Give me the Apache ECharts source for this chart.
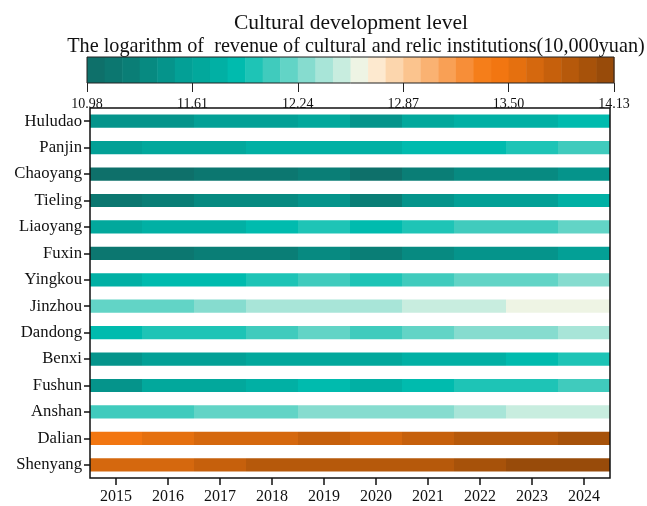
<!DOCTYPE html>
<html>
<head>
<meta charset="utf-8">
<script src="https://cdn.jsdelivr.net/npm/echarts@6/dist/echarts.min.js"></script>
<style>
  html, body { margin: 0; padding: 0; background: #fff; }
  #chart { width: 647px; height: 506px; }
</style>
</head>
<body>
<div id="chart"></div>
<script>
// Cities, top to bottom
const cities = ['Huludao', 'Panjin', 'Chaoyang', 'Tieling', 'Liaoyang', 'Fuxin', 'Yingkou',
  'Jinzhou', 'Dandong', 'Benxi', 'Fushun', 'Anshan', 'Dalian', 'Shenyang'];
const years = ['2015', '2016', '2017', '2018', '2019', '2020', '2021', '2022', '2023', '2024'];

// Logarithm of revenue of cultural and relic institutions (10,000 yuan), 2015-2024
const huludao  = [11.43, 11.47, 11.53, 11.58, 11.64, 11.49, 11.67, 11.74, 11.79, 11.86];
const panjin   = [11.58, 11.63, 11.68, 11.73, 11.76, 11.80, 11.85, 11.90, 11.97, 12.06];
const chaoyang = [11.03, 11.07, 11.11, 11.16, 11.22, 11.06, 11.25, 11.32, 11.37, 11.44];
const tieling  = [11.15, 11.24, 11.31, 11.36, 11.42, 11.27, 11.46, 11.54, 11.59, 11.75];
const liaoyang = [11.68, 11.74, 11.79, 11.86, 11.95, 11.88, 11.99, 12.06, 12.10, 12.18];
const fuxin    = [11.12, 11.17, 11.21, 11.26, 11.33, 11.24, 11.38, 11.43, 11.48, 11.57];
const yingkou  = [11.77, 11.84, 11.89, 11.96, 12.05, 11.98, 12.09, 12.16, 12.21, 12.29];
const jinzhou  = [12.17, 12.22, 12.30, 12.37, 12.41, 12.43, 12.49, 12.53, 12.59, 12.63];
const dandong  = [11.88, 11.95, 12.00, 12.07, 12.16, 12.10, 12.20, 12.27, 12.32, 12.39];
const benxi    = [11.46, 11.55, 11.59, 11.64, 11.68, 11.66, 11.74, 11.79, 11.86, 11.96];
const fushun   = [11.49, 11.64, 11.69, 11.76, 11.85, 11.78, 11.88, 11.96, 12.01, 12.08];
const anshan   = [12.06, 12.11, 12.17, 12.21, 12.27, 12.30, 12.34, 12.40, 12.48, 12.53];
const dalian   = [13.47, 13.56, 13.64, 13.68, 13.74, 13.67, 13.78, 13.84, 13.90, 13.96];
const shenyang = [13.63, 13.69, 13.75, 13.82, 13.86, 13.88, 13.91, 13.97, 14.06, 14.11];

// Colour scale range and its tick labels
const scaleMin = 10.98;
const scaleMax = 14.13;
const scaleSteps = 30;
const scaleTickLabels = ['10.98', '11.61', '12.24', '12.87', '13.50', '14.13'];

// Discrete palette: dark teal -> cyan -> cream -> orange -> brown
const palette = [
  '#0e706a', '#0c7770', '#0a7e76', '#078a81', '#05948b', '#03a096', '#02a89c', '#01b0a4',
  '#00bbae', '#1ec4b6', '#40cbbd', '#62d4c6', '#86dccf', '#a8e5d8', '#c8eddf', '#eef4e4',
  '#fde9cf', '#fcd6ad', '#fbc48e', '#fab272', '#f9a055', '#f78e38', '#f57e1a', '#f27611',
  '#e5700f', '#d5680e', '#c6600c', '#b6590b', '#a7520a', '#984b0a'
];

const rows = [huludao, panjin, chaoyang, tieling, liaoyang, fuxin, yingkou,
  jinzhou, dandong, benxi, fushun, anshan, dalian, shenyang];

const cellData = [];
rows.forEach((vals, r) => vals.forEach((v, c) => cellData.push([c, r, v])));

const stepSize = (scaleMax - scaleMin) / scaleSteps;
const pieces = palette.map((color, i) => {
  const p = { gte: scaleMin + i * stepSize, color: color };
  if (i < scaleSteps - 1) p.lt = scaleMin + (i + 1) * stepSize;
  else p.lte = scaleMax + 1e-9;
  return p;
});
const barData = palette.map((_, i) => [i, scaleMin + (i + 0.5) * stepSize]);

const FONT = 'Liberation Serif, Times New Roman, serif';

const chart = echarts.init(document.getElementById('chart'), null, { renderer: 'canvas' });

chart.setOption({
  animation: false,
  backgroundColor: '#fff',
  title: [
    { text: 'Cultural development level', left: 346, top: 7, textAlign: 'center',
      textStyle: { fontFamily: FONT, fontSize: 21.5, fontWeight: 'normal', color: '#111' } },
    { text: 'The logarithm of  revenue of cultural and relic institutions(10,000yuan)', left: 351, top: 32, textAlign: 'center',
      textStyle: { fontFamily: FONT, fontSize: 20.2, fontWeight: 'normal', color: '#111' } }
  ],
  visualMap: {
    type: 'piecewise',
    show: false,
    dimension: 2,
    seriesIndex: 0,
    pieces: pieces
  },
  grid: [
    { left: 90, top: 108, width: 520, height: 370, show: true, borderColor: '#111', borderWidth: 1.5,
      backgroundColor: 'transparent', z: 10 },
    { left: 87, top: 57, width: 527, height: 26, show: true, borderColor: '#222', borderWidth: 1,
      backgroundColor: 'transparent', z: 10 }
  ],
  xAxis: [
    { gridIndex: 0, type: 'category', data: years, position: 'bottom',
      axisLine: { show: false },
      axisTick: { show: true, alignWithLabel: true, length: 7, lineStyle: { color: '#111', width: 1.5 } },
      axisLabel: { fontFamily: FONT, fontSize: 16, color: '#111', margin: 11 },
      splitLine: { show: false } },
    { gridIndex: 1, type: 'value', min: 0, max: scaleSteps, interval: 6, position: 'bottom',
      axisLine: { show: false },
      axisTick: { show: true, length: 9, lineStyle: { color: '#222', width: 1 } },
      axisLabel: { fontFamily: FONT, fontSize: 14, color: '#111', margin: 14,
        showMinLabel: true, showMaxLabel: true,
        formatter: v => scaleTickLabels[Math.round(v / 6)] },
      splitLine: { show: false } }
  ],
  yAxis: [
    { gridIndex: 0, type: 'category', data: cities, inverse: true,
      axisLine: { show: false },
      axisTick: { show: true, alignWithLabel: true, length: 6, lineStyle: { color: '#111', width: 1.5 } },
      axisLabel: { fontFamily: FONT, fontSize: 16.7, color: '#111', margin: 8 },
      splitLine: { show: false } },
    { gridIndex: 1, type: 'value', min: 0, max: 1, show: false }
  ],
  series: [
    {
      // heat cells, drawn as half-height bands per row
      type: 'custom',
      xAxisIndex: 0, yAxisIndex: 0,
      encode: { x: 0, y: 1 },
      dimensions: ['year', 'city', 'value'],
      data: cellData,
      renderItem: (params, api) => {
        const c = api.coord([api.value(0), api.value(1)]);
        const s = api.size([1, 1]);
        return {
          type: 'rect',
          shape: { x: c[0] - s[0] / 2, y: c[1] - s[1] * 0.25, width: s[0], height: s[1] * 0.5 },
          style: { fill: api.visual('color') }
        };
      }
    },
    {
      // colour bar
      type: 'custom',
      xAxisIndex: 1, yAxisIndex: 1,
      data: barData,
      renderItem: (params, api) => {
        const i = api.value(0);
        const x0 = api.coord([i, 0])[0];
        const x1 = api.coord([i + 1, 0])[0];
        const cs = params.coordSys;
        return {
          type: 'rect',
          shape: { x: x0, y: cs.y, width: x1 - x0 + 0.5, height: cs.height },
          style: { fill: palette[i] }
        };
      }
    }
  ]
});
</script>
</body>
</html>
